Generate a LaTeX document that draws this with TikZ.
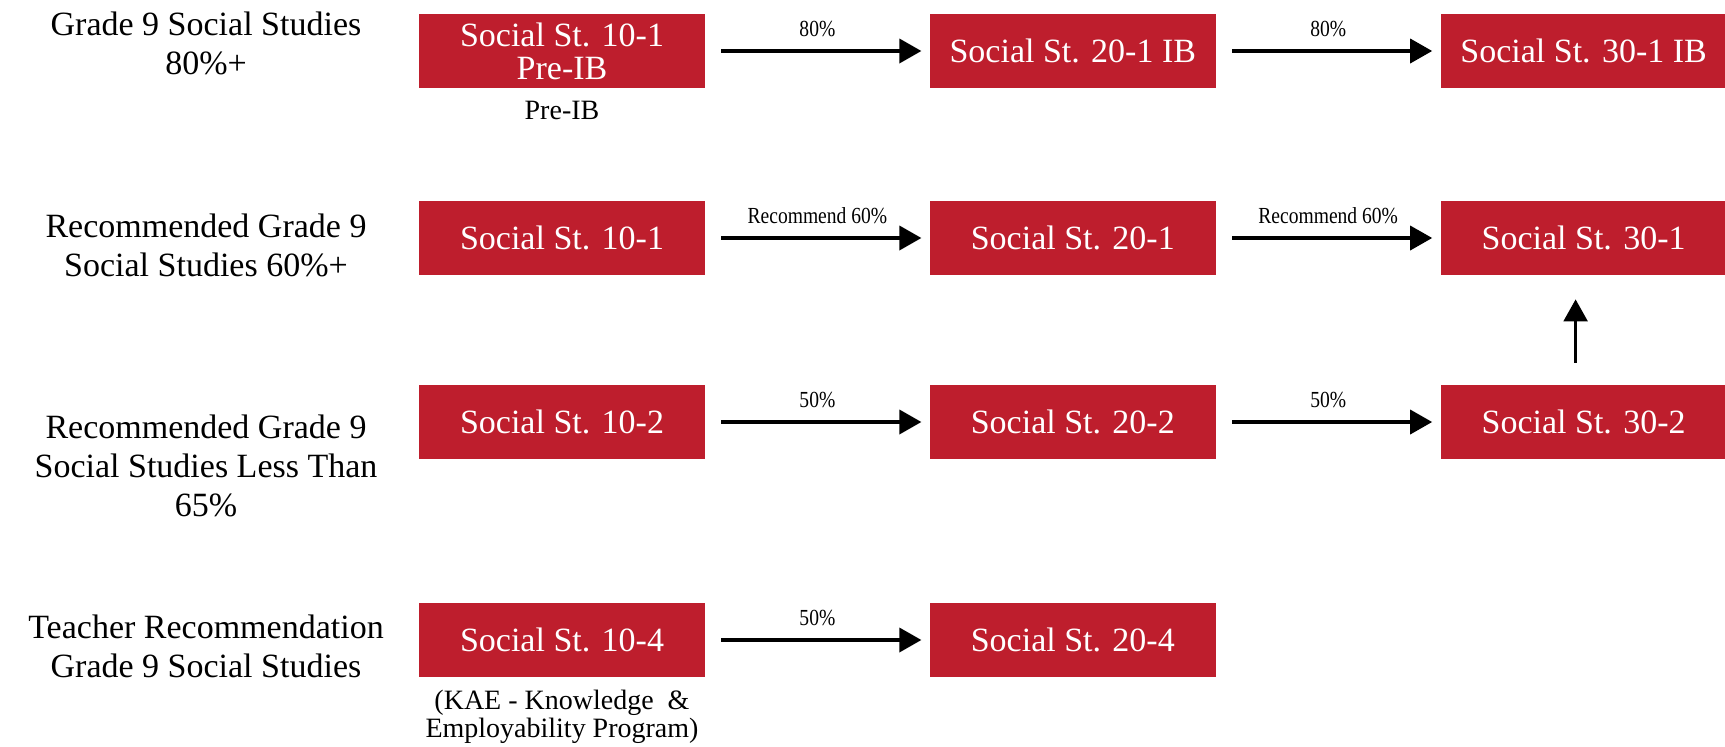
\documentclass[tikz,border=0pt]{standalone}
\usepackage{fontspec}
\setmainfont{Liberation Serif}
\newfontfamily\narrowfont[FakeStretch=0.85]{Liberation Serif}
\usetikzlibrary{arrows.meta,positioning}
\definecolor{coursered}{RGB}{190,30,45}
\tikzset{
course/.style={fill=coursered,text=white,minimum width=143pt,minimum height=37pt,inner sep=0pt,align=center,font=\fontsize{17}{16.5}\selectfont},
entry/.style={align=center,font=\fontsize{17}{19.5}\selectfont},
note/.style={align=center,font=\fontsize{14}{14}\selectfont},
flow/.style={-{Triangle[length=11pt,width=12pt]},line width=1.8pt,shorten <=8pt,shorten >=4pt},
pct/.style={above=3pt,midway,font=\narrowfont\fontsize{11.5}{12}\selectfont}
}

\begin{document}
\begin{tikzpicture}[x=0.5pt,y=-0.5pt,node distance=112pt]
\useasboundingbox (0,0) rectangle (1725,746);
% row 1
\node[course](ib10) at (562,51){Social St. 10-1\\Pre-IB};
\node[course,right=of ib10](ib20){Social St. 20-1 IB};
\node[course,right=of ib20](ib30){Social St. 30-1 IB};
\node[note,below=3pt of ib10](preib){Pre-IB};
% row 2
\node[course](s101) at (562,238){Social St. 10-1};
\node[course,right=of s101](s201){Social St. 20-1};
\node[course,right=of s201](s301){Social St. 30-1};
% row 3
\node[course](s102) at (562,422){Social St. 10-2};
\node[course,right=of s102](s202){Social St. 20-2};
\node[course,right=of s202](s302){Social St. 30-2};
% row 4
\node[course](s104) at (562,640){Social St. 10-4};
\node[course,right=of s104](s204){Social St. 20-4};
\node[note,below=3pt of s104](kae){(KAE - Knowledge~~\&\\Employability Program)};
% entry requirements
\node[entry](req1) at (206,43){Grade 9 Social Studies\\80\%+};
\node[entry](req2) at (206,245){Recommended Grade 9\\Social Studies 60\%+};
\node[entry](req3) at (206,466){Recommended Grade 9\\Social Studies Less Than\\65\%};
\node[entry](req4) at (206,646){Teacher Recommendation\\Grade 9 Social Studies};
% arrows
\draw[flow](ib10)--(ib20) node[pct]{80\%};
\draw[flow](ib20)--(ib30) node[pct]{80\%};
\draw[flow](s101)--(s201) node[pct]{Recommend 60\%};
\draw[flow](s201)--(s301) node[pct]{Recommend 60\%};
\draw[flow](s102)--(s202) node[pct]{50\%};
\draw[flow](s202)--(s302) node[pct]{50\%};
\draw[flow](s104)--(s204) node[pct]{50\%};
\draw[flow,line width=1.2pt,shorten <=11pt,shorten >=12pt]([xshift=-4pt]s302.north)--([xshift=-4pt]s301.south);
\end{tikzpicture}
\end{document}
